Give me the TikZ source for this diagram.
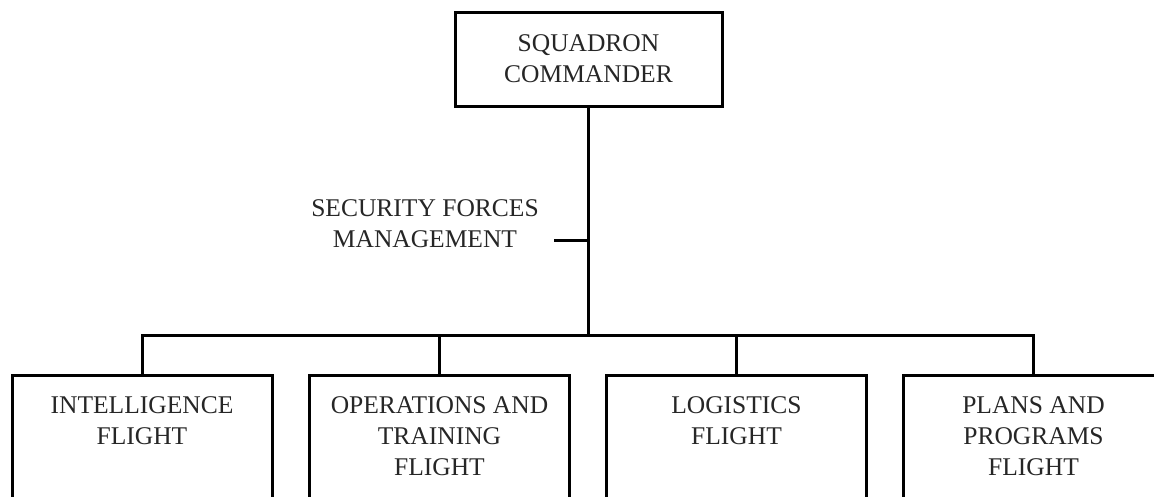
\documentclass[tikz,border=0pt]{standalone}
\usepackage{fontspec}
\setmainfont{Liberation Serif}
\begin{document}
\begin{tikzpicture}[x=1pt,y=-1pt,
  lw/.style={line width=3pt},
  topbox/.style={draw, lw, minimum width=267pt, minimum height=94pt, inner sep=0pt, align=center, font=\fontsize{25.5}{31}\selectfont, text=black!85},
  flightbox/.style={draw, lw, minimum width=260pt, minimum height=170pt, inner sep=0pt, anchor=north},
  lbl/.style={align=center, inner sep=0pt, font=\fontsize{25.5}{31}\selectfont, text=black!85},
  conn/.style={lw, line join=miter}
]
\useasboundingbox (0,0) rectangle (1154,496);
\clip (0,0) rectangle (1154,496);
\node[topbox] (top) at (588.5,59) {SQUADRON\\COMMANDER};
\node[flightbox] (b1) at (142,374) {};
\node[flightbox] (b2) at (439.5,374) {};
\node[flightbox] (b3) at (736.5,374) {};
\node[flightbox] (b4) at (1033.5,374) {};
\node[lbl, anchor=north] (t1) at (142,396) {INTELLIGENCE\\FLIGHT};
\node[lbl, anchor=north] (t2) at (439.5,396) {OPERATIONS AND\\TRAINING\\FLIGHT};
\node[lbl, anchor=north] (t3) at (736.5,396) {LOGISTICS\\FLIGHT};
\node[lbl, anchor=north] (t4) at (1033.5,396) {PLANS AND\\PROGRAMS\\FLIGHT};
\node[lbl] (sfm) at (425,224) {SECURITY FORCES\\MANAGEMENT};
\coordinate (j) at (588.5,335);
\coordinate (tk) at (554,240);
\draw[conn] (top.south) -- (j);
\draw[conn] (tk) -- (tk -| top.south);
\draw[conn] (b1.north) |- (j);
\draw[conn] (b2.north) |- (j);
\draw[conn] (b3.north) |- (j);
\draw[conn] (b4.north) |- (j);
\end{tikzpicture}
\end{document}
